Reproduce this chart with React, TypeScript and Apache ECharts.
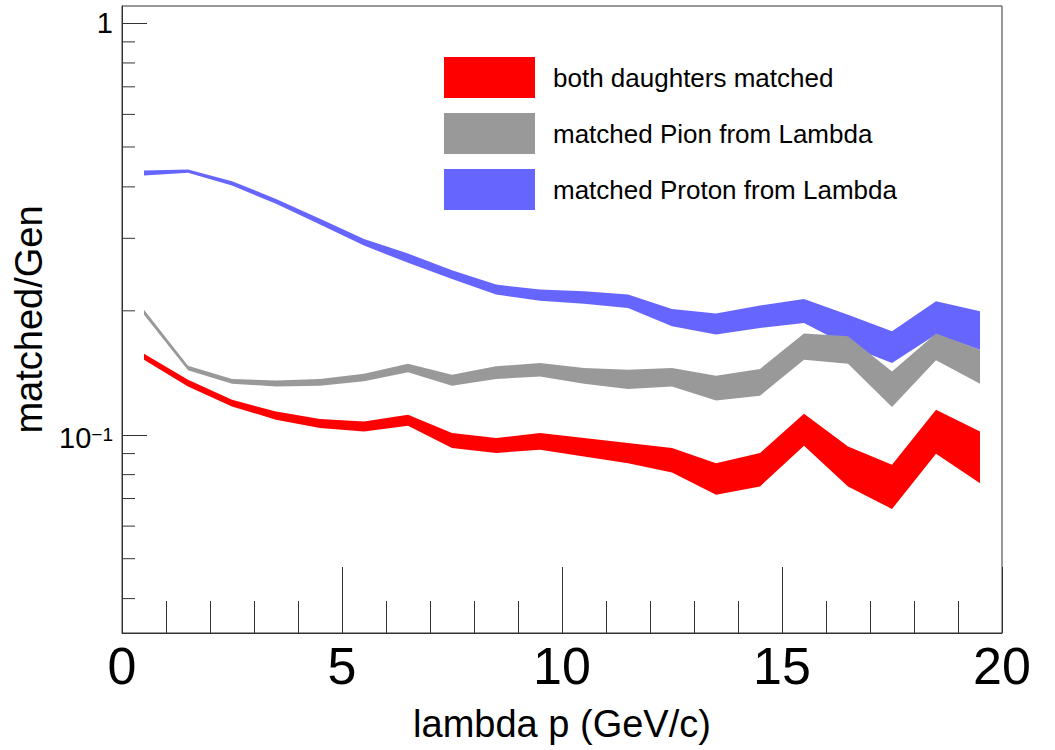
import React, { useEffect, useRef } from 'react';
import * as echarts from 'echarts';

const xCenters = [0.5, 1.5, 2.5, 3.5, 4.5, 5.5, 6.5, 7.5, 8.5, 9.5, 10.5, 11.5, 12.5, 13.5, 14.5, 15.5, 16.5, 17.5, 18.5, 19.5];

const redLow = [0.1522, 0.1310, 0.1172, 0.1088, 0.1038, 0.1019, 0.1052, 0.0928, 0.0903, 0.0920, 0.0886, 0.0853, 0.0810, 0.0715, 0.0749, 0.0940, 0.0749, 0.0660, 0.0899, 0.0763];
const redHigh = [0.1574, 0.1360, 0.1216, 0.1139, 0.1092, 0.1077, 0.1118, 0.1010, 0.0982, 0.1010, 0.0982, 0.0955, 0.0928, 0.0853, 0.0903, 0.1125, 0.0937, 0.0846, 0.1150, 0.1019];

const grayLow = [0.1957, 0.1434, 0.1330, 0.1310, 0.1316, 0.1348, 0.1418, 0.1316, 0.1366, 0.1386, 0.1330, 0.1291, 0.1310, 0.1212, 0.1244, 0.1522, 0.1488, 0.1168, 0.1516, 0.1330];
const grayHigh = [0.2013, 0.1472, 0.1366, 0.1355, 0.1366, 0.1407, 0.1488, 0.1399, 0.1466, 0.1494, 0.1453, 0.1439, 0.1453, 0.1391, 0.1445, 0.1761, 0.1734, 0.1425, 0.1761, 0.1609];

const blueLow = [0.4264, 0.4330, 0.4030, 0.3640, 0.3240, 0.2880, 0.2616, 0.2390, 0.2190, 0.2117, 0.2082, 0.2032, 0.1834, 0.1751, 0.1817, 0.1869, 0.1646, 0.1494, 0.1751, 0.1609];
const blueHigh = [0.4385, 0.4410, 0.4130, 0.3740, 0.3345, 0.2990, 0.2755, 0.2510, 0.2316, 0.2252, 0.2231, 0.2190, 0.2021, 0.1969, 0.2059, 0.2138, 0.1957, 0.1783, 0.2109, 0.1994];

const seriesNames = ['both daughters matched', 'matched Pion from Lambda', 'matched Proton from Lambda'];
const seriesColors = ['#ff0000', '#999999', '#6666ff'];

const yMinorTickValues = [0.04, 0.05, 0.06, 0.07, 0.08, 0.09, 0.2, 0.3, 0.4, 0.5, 0.6, 0.7, 0.8, 0.9];

const FONT = '"Liberation Sans", Arial, Helvetica, sans-serif';

function bandSeries(name: string, color: string, low: number[], high: number[]) {
  return {
    type: 'custom',
    name,
    coordinateSystem: 'cartesian2d',
    silent: true,
    itemStyle: { color },
    data: xCenters.map((x, i) => [x, low[i], high[i]]),
    encode: { x: 0, y: [1, 2] },
    renderItem: (params: any, api: any) => {
      if (params.dataIndex !== 0) return null;
      const top = xCenters.map((x, i) => api.coord([x, high[i]]));
      const bot = xCenters.map((x, i) => api.coord([x, low[i]])).reverse();
      return {
        type: 'polygon',
        shape: { points: top.concat(bot) },
        style: { fill: color },
      };
    },
  };
}

export default function App() {
  const ref = useRef<HTMLDivElement>(null);
  useEffect(() => {
    if (!ref.current) return;
    const chart = echarts.init(ref.current, undefined, { renderer: 'svg' });
    const axisColor = '#333';
    chart.setOption({
      animation: false,
      textStyle: { fontFamily: FONT },
      grid: {
        show: true,
        left: 122,
        top: 6,
        right: 53,
        bottom: 117,
        borderColor: axisColor,
        borderWidth: 1,
        backgroundColor: 'transparent',
      },
      legend: {
        data: seriesNames,
        orient: 'vertical',
        left: 444,
        top: 57,
        padding: 0,
        itemWidth: 91,
        itemHeight: 41,
        itemGap: 15,
        icon: 'rect',
        selectedMode: false,
        textStyle: { fontSize: 26, color: '#000', fontFamily: FONT, padding: [0, 0, 0, 13] },
      },
      xAxis: {
        type: 'value',
        min: 0,
        max: 20,
        interval: 5,
        name: 'lambda p (GeV/c)',
        nameLocation: 'middle',
        nameGap: 72,
        nameTextStyle: { fontSize: 38, color: '#000', fontFamily: FONT },
        axisLine: { show: true, lineStyle: { color: axisColor, width: 1 } },
        axisTick: { show: true, inside: true, length: 66, lineStyle: { color: axisColor, width: 1 } },
        minorTick: { show: true, splitNumber: 5, length: 32, lineStyle: { color: axisColor, width: 1 } },
        splitLine: { show: false },
        minorSplitLine: { show: false },
        axisLabel: { fontSize: 52, color: '#000', margin: 7, fontFamily: FONT },
      },
      yAxis: {
        type: 'log',
        logBase: 10,
        min: 0.033,
        max: 1.1,
        name: 'matched/Gen',
        nameLocation: 'middle',
        nameGap: 66,
        nameTextStyle: { fontSize: 38, color: '#000', fontFamily: FONT },
        axisLine: { show: true, lineStyle: { color: axisColor, width: 1 } },
        axisTick: { show: true, inside: true, length: 25, lineStyle: { color: axisColor, width: 1 } },
        splitLine: { show: false },
        axisLabel: {
          showMinLabel: false,
          showMaxLabel: false,
          margin: 9,
          color: '#000',
          fontFamily: FONT,
          fontSize: 29,
          formatter: (v: number) => {
            const l = Math.log10(v);
            if (Math.abs(l) < 1e-6) return '1';
            if (Math.abs(l + 1) < 1e-6) return '{a|10}{b|\u22121}';
            return '';
          },
          rich: {
            a: { fontSize: 29, color: '#000', fontFamily: FONT, padding: [6, 0, 0, 0] },
            b: { fontSize: 19, color: '#000', fontFamily: FONT },
          },
        },
      },
      series: [
        bandSeries(seriesNames[2], seriesColors[2], blueLow, blueHigh),
        bandSeries(seriesNames[1], seriesColors[1], grayLow, grayHigh),
        bandSeries(seriesNames[0], seriesColors[0], redLow, redHigh),
        {
          type: 'custom',
          name: 'yMinorTicks',
          silent: true,
          z: 5,
          data: yMinorTickValues.map((v) => [0, v]),
          encode: { x: 0, y: 1 },
          renderItem: (params: any, api: any) => {
            const p = api.coord([0, api.value(1)]);
            return {
              type: 'line',
              shape: { x1: p[0], y1: p[1], x2: p[0] + 13, y2: p[1] },
              style: { stroke: axisColor, lineWidth: 1 },
            };
          },
        },
      ],
    });
    return () => chart.dispose();
  }, []);
  return (
    <div
      ref={ref}
      style={{ position: 'absolute', left: 0, top: 0, width: 1055, height: 750, background: '#fff' }}
    />
  );
}
